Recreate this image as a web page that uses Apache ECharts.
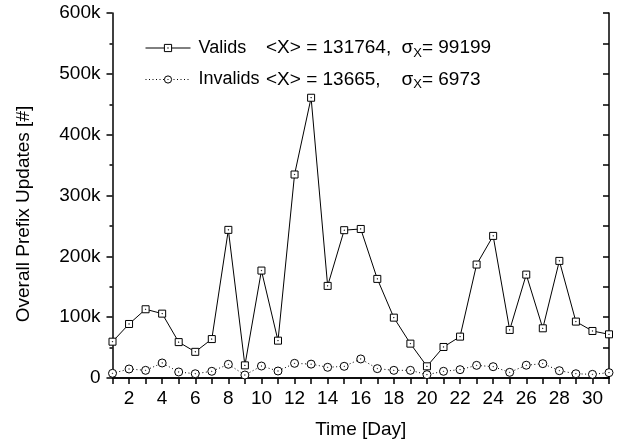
<!DOCTYPE html>
<html>
<head>
<meta charset="utf-8">
<script src="https://cdn.jsdelivr.net/npm/echarts@6/dist/echarts.min.js"></script>
<style>
  html, body { margin: 0; padding: 0; background: #fff; }
  #chart { width: 618px; height: 447px; }
</style>
</head>
<body>
<div id="chart"></div>
<script>
// Daily prefix update counts over one month
const days = [1, 2, 3, 4, 5, 6, 7, 8, 9, 10, 11, 12, 13, 14, 15, 16, 17, 18, 19, 20,
              21, 22, 23, 24, 25, 26, 27, 28, 29, 30, 31];
const validUpdates = [59700, 88800, 113000, 105800, 59000, 43000, 64000, 243500, 20800, 176600,
                      61400, 334500, 460700, 151400, 243000, 245000, 162900, 99200, 56500, 19200,
                      51000, 68000, 186500, 233600, 79000, 170000, 81700, 192500, 92700, 77300, 71800];
const invalidUpdates = [7700, 14800, 12600, 24700, 9900, 7000, 11000, 22500, 4900, 19700,
                        11500, 24100, 22800, 17600, 19200, 31300, 15400, 12600, 12600, 5500,
                        11000, 13700, 20800, 18600, 9300, 21000, 23600, 12000, 7000, 6000, 8800];
const seriesNames = ['Valids', 'Invalids'];
const meanValues = [131764, 13665];
const sigmaValues = [99199, 6973];
const xAxisTitle = 'Time [Day]';
const yAxisTitle = 'Overall Prefix Updates [#]';

const FONT = "'Liberation Sans', Arial, Helvetica, sans-serif";
const FS = 19;

// Hollow markers with a small centre dot (inner sub-path gets stroked into a dot)
const squareMark = 'path://M0,0H10V10H0Z M4.7,4.7H5.3V5.3H4.7Z';
const circleMark = 'path://M5,0A5,5,0,1,1,5,10A5,5,0,1,1,5,0Z M5,4.7A0.3,0.3,0,1,1,5,5.3A0.3,0.3,0,1,1,5,4.7Z';

const toPairs = (vals) => days.map((d, i) => [d, vals[i]]);

const chart = echarts.init(document.getElementById('chart'), null, { renderer: 'canvas' });

const axisLine = { show: true, lineStyle: { color: '#000', width: 1.5 } };
const txt = { fontFamily: FONT, fontSize: FS, color: '#000' };

chart.setOption({
  animation: false,
  backgroundColor: '#fff',
  textStyle: { fontFamily: FONT },
  grid: { left: 112.5, right: 9, top: 13, bottom: 69, outerBoundsMode: 'none' },
  legend: {
    left: 145,
    top: 38,
    padding: 0,
    orient: 'vertical',
    itemWidth: 45,
    itemHeight: 9,
    itemGap: 10,
    selectedMode: false,
    data: seriesNames,
    itemStyle: { color: '#fff', borderColor: '#000', borderWidth: 1 },
    lineStyle: { width: 1, color: '#000' },
    formatter: function (name) {
      const i = seriesNames.indexOf(name);
      return '{n|' + name + '}{m|<X> = ' + meanValues[i] + ',}{s|σ}{x|X}{v|= ' + sigmaValues[i] + '}';
    },
    textStyle: {
      fontFamily: FONT,
      fontSize: FS,
      color: '#000',
      lineHeight: 20,
      rich: {
        n: { fontFamily: FONT, fontSize: 18, color: '#000', width: 67.5, padding: [0, 0, 0, 3] },
        m: Object.assign({ width: 135.5 }, txt),
        s: Object.assign({}, txt),
        x: { fontFamily: FONT, fontSize: 13, color: '#000', padding: [10, 0, 0, 0] },
        v: Object.assign({}, txt)
      }
    }
  },
  xAxis: [
    {
      type: 'value',
      position: 'bottom',
      min: 1,
      max: 31,
      interval: 1,
      name: xAxisTitle,
      nameLocation: 'middle',
      nameGap: 42,
      nameTextStyle: txt,
      axisLine: axisLine,
      axisTick: { show: true, inside: false, length: 5, lineStyle: { color: '#000', width: 1.5 } },
      axisLabel: Object.assign({
        margin: 11,
        formatter: (v) => (v % 2 === 0 ? String(v) : '')
      }, txt),
      splitLine: { show: false }
    },
    {
      type: 'value',
      position: 'top',
      min: 1,
      max: 31,
      interval: 1,
      axisLine: axisLine,
      axisTick: { show: true, inside: true, length: 6, lineStyle: { color: '#000', width: 1.5 } },
      axisLabel: { show: false },
      splitLine: { show: false }
    }
  ],
  yAxis: [
    {
      type: 'value',
      position: 'left',
      min: 0,
      max: 600000,
      interval: 100000,
      axisLine: axisLine,
      axisTick: { show: true, inside: false, length: 6, lineStyle: { color: '#000', width: 1.5 } },
      minorTick: { show: true, splitNumber: 2, length: 3, lineStyle: { color: '#000', width: 1.5 } },
      axisLabel: Object.assign({
        margin: 12,
        formatter: (v) => (v === 0 ? '0' : (v / 1000) + 'k')
      }, txt),
      splitLine: { show: false },
      minorSplitLine: { show: false }
    },
    {
      type: 'value',
      position: 'right',
      min: 0,
      max: 600000,
      interval: 100000,
      axisLine: axisLine,
      axisTick: { show: true, inside: true, length: 6, lineStyle: { color: '#000', width: 1.5 } },
      minorTick: { show: true, splitNumber: 2, length: 6, lineStyle: { color: '#000', width: 1.5 } },
      axisLabel: { show: false },
      splitLine: { show: false },
      minorSplitLine: { show: false }
    }
  ],
  graphic: [
    {
      type: 'text',
      x: 24,
      y: 214,
      rotation: Math.PI / 2,
      style: {
        text: yAxisTitle,
        font: FS + 'px ' + FONT,
        fill: '#000',
        textAlign: 'center',
        textVerticalAlign: 'middle',
        align: 'center',
        verticalAlign: 'middle'
      }
    }
  ],
  series: [
    {
      name: seriesNames[0],
      type: 'line',
      xAxisIndex: 0,
      yAxisIndex: 0,
      data: toPairs(validUpdates),
      symbol: squareMark,
      symbolSize: 7,
      showAllSymbol: true,
      lineStyle: { color: '#000', width: 1 },
      itemStyle: { color: '#fff', borderColor: '#000', borderWidth: 1 },
      z: 3
    },
    {
      name: seriesNames[1],
      type: 'line',
      xAxisIndex: 0,
      yAxisIndex: 0,
      data: toPairs(invalidUpdates),
      symbol: circleMark,
      symbolSize: 8,
      showAllSymbol: true,
      lineStyle: { color: '#000', width: 1, type: [1, 2.5] },
      itemStyle: { color: '#fff', borderColor: '#000', borderWidth: 1 },
      z: 2
    }
  ]
});
</script>
</body>
</html>
